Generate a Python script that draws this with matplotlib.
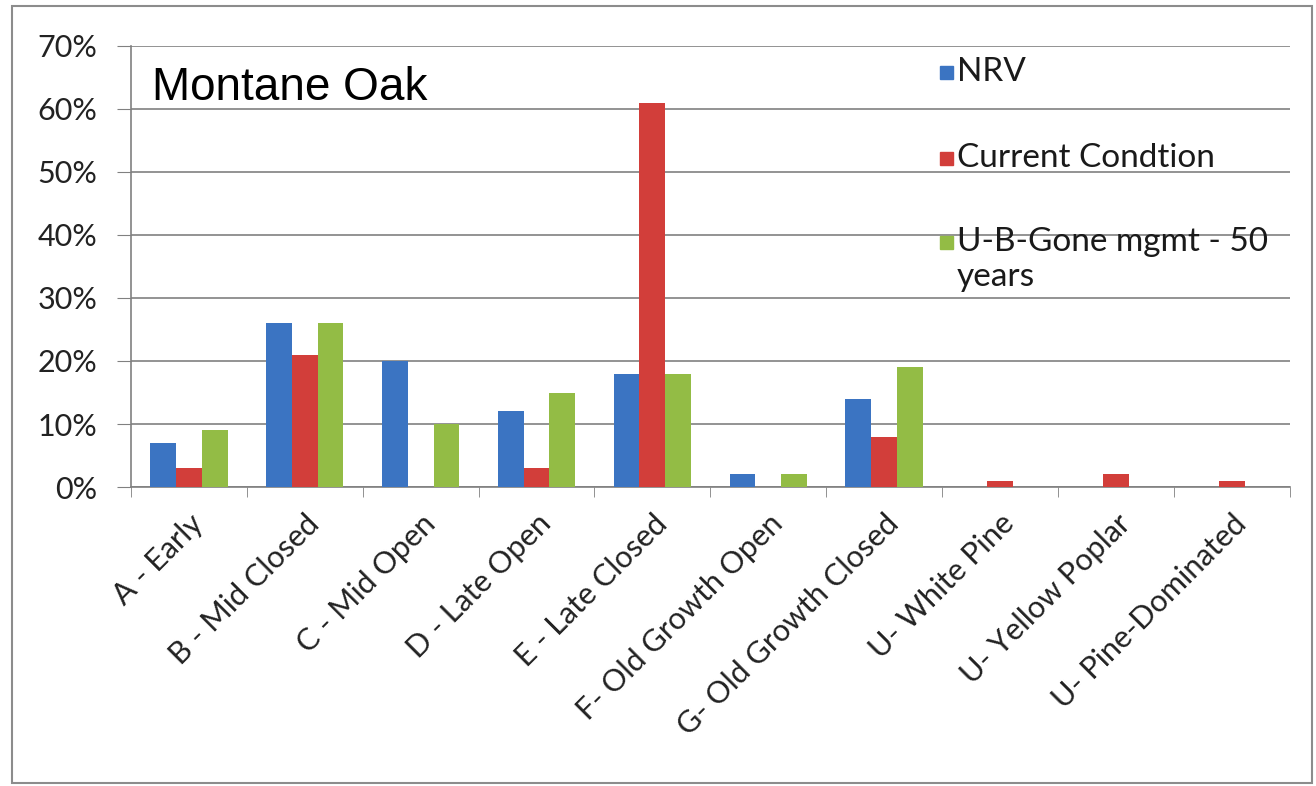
import numpy as np
import matplotlib.pyplot as plt
from matplotlib.patches import Rectangle

categories = ["A - Early", "B - Mid Closed", "C - Mid Open", "D - Late Open",
              "E - Late Closed", "F- Old Growth Open", "G- Old Growth Closed",
              "U- White Pine", "U- Yellow Poplar", "U- Pine-Dominated"]
nrv = [7, 26, 20, 12, 18, 2, 14, 0, 0, 0]
current = [3, 21, 0, 3, 61, 0, 8, 1, 2, 1]
ubgone = [9, 26, 10, 15, 18, 2, 19, 0, 0, 0]
series_names = ["NRV", "Current Condtion", "U-B-Gone mgmt - 50\nyears"]
colors = ["#3B74C2", "#D23E3A", "#93BC45"]

fig = plt.figure(figsize=(13.16, 7.86), dpi=100)
ax = fig.add_axes([0.0995, 0.3804, 0.8805, 0.5611])

x = np.arange(len(categories))
w = 1 / 4.5
for i, (vals, c) in enumerate(zip([nrv, current, ubgone], colors)):
    ax.bar(x + (i - 1) * w, np.array(vals) / 100, width=w, color=c, zorder=3)

ax.set_xlim(-0.5, len(categories) - 0.5)
ax.set_ylim(0, 0.70)
yt = np.arange(0, 0.71, 0.1)
ax.set_yticks(yt)
ax.set_yticklabels([f"{int(round(v * 100))}%" for v in yt],
                   fontsize=22, family="Lato", color="#222222")
ax.yaxis.grid(True, color="#808080", lw=1.2, zorder=0)
ax.tick_params(axis="y", length=10, color="#808080", pad=14)

ax.set_xticks(x)
ax.set_xticklabels(categories, rotation=45, ha="right", rotation_mode="anchor",
                   fontsize=22, family="Lato", color="#222222")
ax.tick_params(axis="x", which="major", length=0, pad=16)
ax.set_xticks(np.arange(-0.5, len(categories)), minor=True)
ax.tick_params(axis="x", which="minor", length=7, color="#808080")

for s in ["top", "right"]:
    ax.spines[s].set_visible(False)
for s in ["left", "bottom"]:
    ax.spines[s].set_color("#808080")
    ax.spines[s].set_linewidth(1.2)

ax.text(0.018, 0.955, "Montane Oak", transform=ax.transAxes, fontsize=33,
        family="Liberation Sans", va="top", ha="left")

# legend drawn by hand so the swatch sits on the first line of each label
leg_y = [0.943, 0.748, 0.558]
for name, c, yy in zip(series_names, colors, leg_y):
    ax.add_patch(Rectangle((0.698, yy - 0.018), 0.0115, 0.03, transform=ax.transAxes,
                           color=c, clip_on=False, zorder=4))
    ax.text(0.713, yy + 0.032, name, transform=ax.transAxes, fontsize=24,
            family="Lato", color="#1a1a1a", va="top", ha="left", linespacing=1.2)

fig.patches.append(Rectangle((12 / 1316, 3 / 786), 1300 / 1316, 777 / 786,
                             transform=fig.transFigure, fill=False,
                             edgecolor="#8c8c8c", lw=1.5))

fig.savefig("out.png", dpi=100)
